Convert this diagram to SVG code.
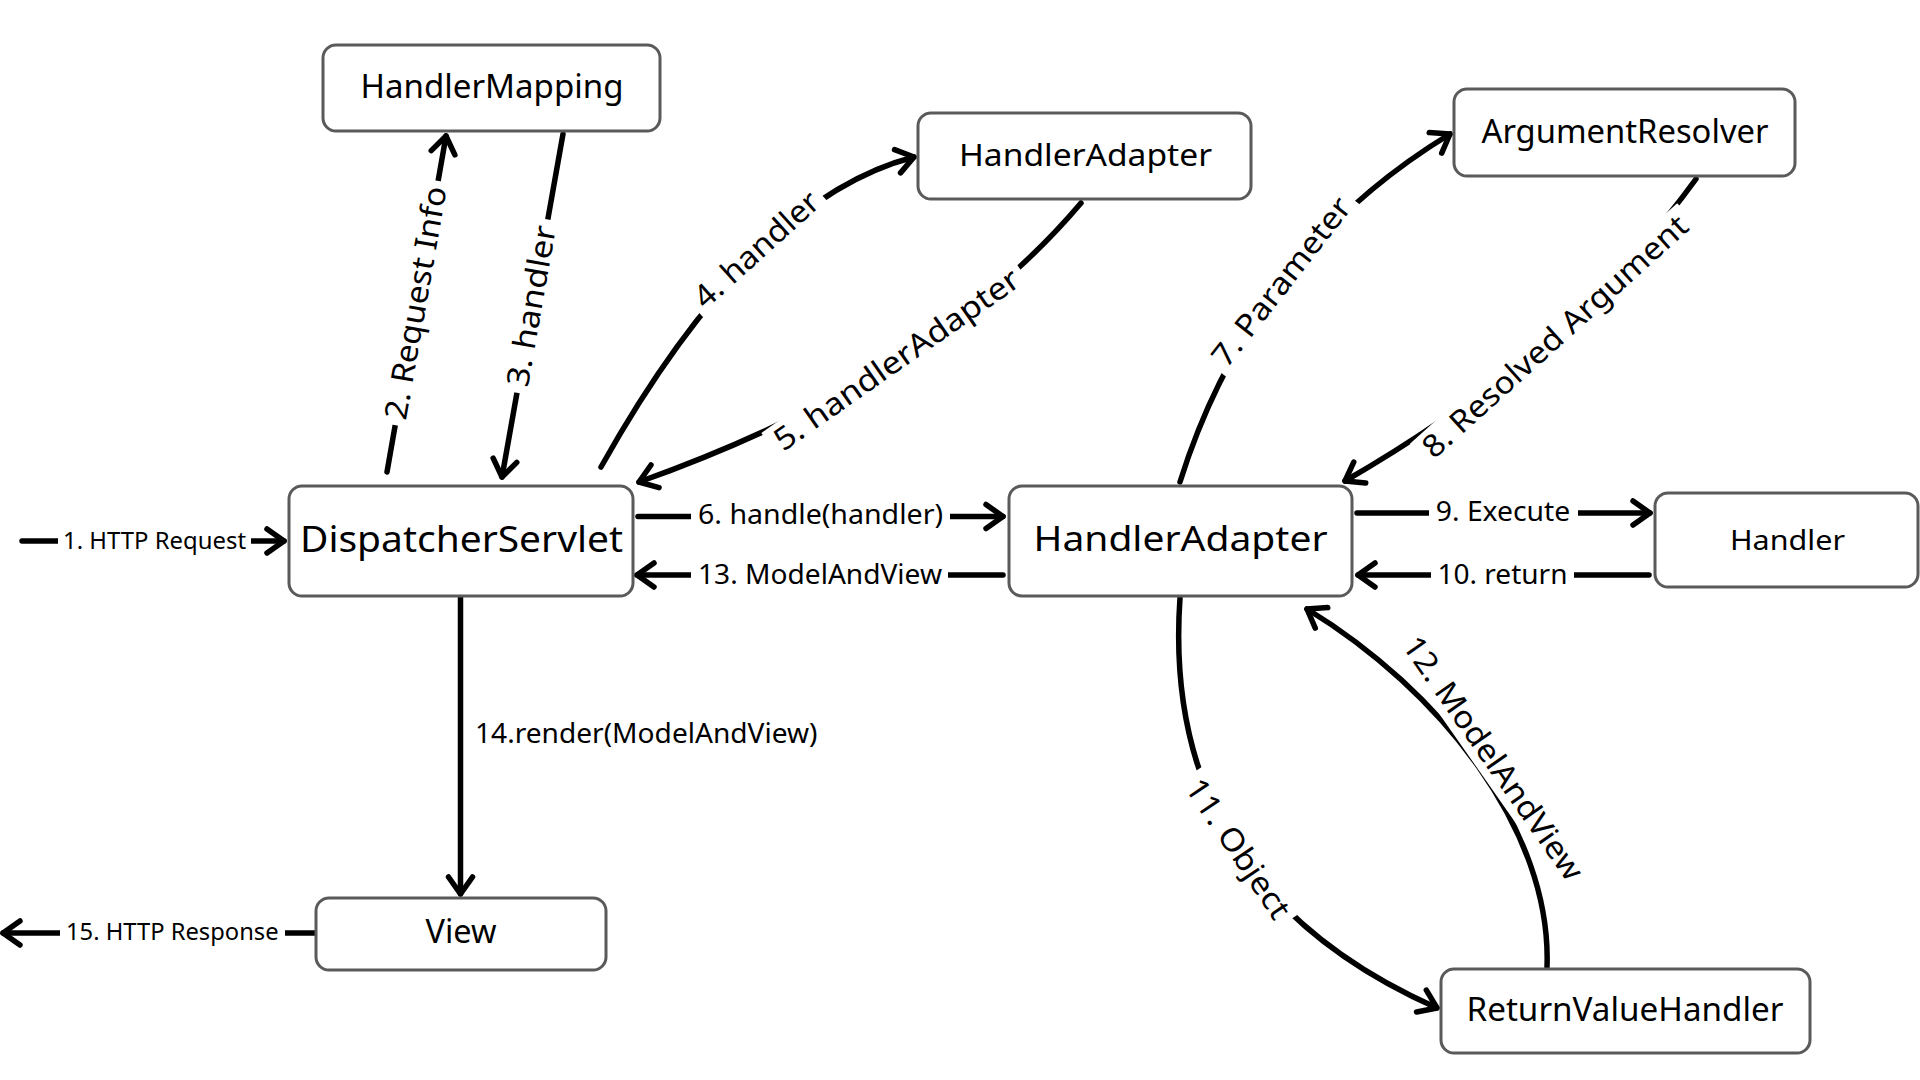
<svg xmlns="http://www.w3.org/2000/svg" width="1920" height="1080" viewBox="0 0 1920 1080">
<defs>
<style>
.node rect{fill:#fff;stroke:#5a5a5a;stroke-width:3}
.node text{font-family:"Noto Sans","Open Sans","Liberation Sans",sans-serif;fill:#000;text-anchor:middle}
.edge{fill:none;stroke:#000;stroke-width:5.5;stroke-linecap:round;marker-end:url(#arrow)}
.lbg{fill:#fff}
.lbl{font-family:"Noto Sans","Open Sans","Liberation Sans",sans-serif;fill:#000;text-anchor:middle;font-size:27px}
.rl{font-size:31px}
.sm{font-size:23px}
</style>
<marker id="arrow" markerUnits="userSpaceOnUse" orient="auto" viewBox="-25 -25 50 50" markerWidth="50" markerHeight="50" refX="0" refY="0">
<path d="M-17,-12 L0,0 L-17,12" fill="none" stroke="#000" stroke-width="5.5" stroke-linecap="round" stroke-linejoin="round"/>
</marker>
</defs>
<rect width="1920" height="1080" fill="#fff"/>
<g id="connectors">
<path class="edge" d="M22,541 H284"/>
<path class="edge" d="M387,472 L446,136"/>
<path class="edge" d="M563,134 L502,477"/>
<path class="edge" d="M601,467 Q751,199 914,157"/>
<path class="edge" d="M1081,203 Q934,377 639,482"/>
<path class="edge" d="M638,516.5 H1003"/>
<path class="edge" d="M1003,575 H637"/>
<path class="edge" d="M1180,482 Q1251,255 1450,134"/>
<path class="edge" d="M1696,179 Q1572,350 1345,481"/>
<path class="edge" d="M1357,513 H1650"/>
<path class="edge" d="M1649,575 H1358"/>
<path class="edge" d="M1180,598 Q1160,885 1437,1008"/>
<path class="edge" d="M1547,967 C1552,830 1440,690 1307,609"/>
<path class="edge" d="M460.5,598 V894"/>
<path class="edge" d="M315,933 H3"/>
<g id="labels">
<rect class="lbg" x="58" y="526" width="193" height="30"/>
<text class="lbl sm" x="154.5" y="549" textLength="183" lengthAdjust="spacingAndGlyphs">1. HTTP Request</text>
<g transform="translate(416.5,303) rotate(-80)"><rect class="lbg" x="-124" y="-18" width="248" height="36"/><text class="lbl rl" x="0" y="10" textLength="236" lengthAdjust="spacingAndGlyphs">2. Request Info</text></g>
<g transform="translate(532,306) rotate(-80)"><rect class="lbg" x="-88" y="-18" width="176" height="36"/><text class="lbl rl" x="0" y="10" textLength="163" lengthAdjust="spacingAndGlyphs">3. handler</text></g>
<g transform="translate(757,250) rotate(-42)"><rect class="lbg" x="-85" y="-18" width="170" height="36"/><text class="lbl rl" x="0" y="10" textLength="157" lengthAdjust="spacingAndGlyphs">4. handler</text></g>
<g transform="translate(897,360) rotate(-35)"><rect class="lbg" x="-153" y="-18" width="306" height="36"/><text class="lbl rl" x="0" y="10" textLength="292" lengthAdjust="spacingAndGlyphs">5. handlerAdapter</text></g>
<rect class="lbg" x="691" y="500" width="259" height="34"/>
<text class="lbl" x="820.5" y="524" textLength="245" lengthAdjust="spacingAndGlyphs">6. handle(handler)</text>
<g transform="translate(1282,282) rotate(-52)"><rect class="lbg" x="-109" y="-18" width="218" height="36"/><text class="lbl rl" x="0" y="10" textLength="205" lengthAdjust="spacingAndGlyphs">7. Parameter</text></g>
<g transform="translate(1555.5,337) rotate(-42)"><rect class="lbg" x="-180" y="-18" width="360" height="36"/><text class="lbl rl" x="0" y="10" textLength="345" lengthAdjust="spacingAndGlyphs">8. Resolved Argument</text></g>
<rect class="lbg" x="1429" y="497" width="149" height="32"/>
<text class="lbl" x="1503" y="521" textLength="134.5" lengthAdjust="spacingAndGlyphs">9. Execute</text>
<rect class="lbg" x="1431" y="559" width="143" height="32"/>
<text class="lbl" x="1502.5" y="583.5" textLength="130" lengthAdjust="spacingAndGlyphs">10. return</text>
<g transform="translate(1237.5,849) rotate(56)"><rect class="lbg" x="-88" y="-18" width="176" height="36"/><text class="lbl rl" x="0" y="10" textLength="162" lengthAdjust="spacingAndGlyphs">11. Object</text></g>
<g transform="translate(1492.5,758.5) rotate(55)"><rect class="lbg" x="-152" y="-18" width="304" height="36"/><text class="lbl rl" x="0" y="10" textLength="290" lengthAdjust="spacingAndGlyphs">12. ModelAndView</text></g>
<rect class="lbg" x="691" y="559" width="257" height="34"/>
<text class="lbl" x="820" y="583.5" textLength="244" lengthAdjust="spacingAndGlyphs">13. ModelAndView</text>
<text class="lbl" x="475" y="743" text-anchor="start" style="text-anchor:start" textLength="342.5" lengthAdjust="spacingAndGlyphs">14.render(ModelAndView)</text>
<rect class="lbg" x="60" y="918" width="225" height="30"/>
<text class="lbl sm" x="172.3" y="940" textLength="212.6" lengthAdjust="spacingAndGlyphs">15. HTTP Response</text>
</g>
</g>
<g id="node-handlermapping" class="node"><rect x="323" y="45" width="337" height="86" rx="13"/><text x="492" y="98" font-size="32" textLength="263" lengthAdjust="spacingAndGlyphs">HandlerMapping</text></g>
<g id="node-handleradapter-top" class="node"><rect x="918" y="113" width="333" height="86" rx="13"/><text x="1085.5" y="166" font-size="30" textLength="253" lengthAdjust="spacingAndGlyphs">HandlerAdapter</text></g>
<g id="node-argumentresolver" class="node"><rect x="1454" y="89" width="341" height="87" rx="13"/><text x="1625" y="143" font-size="32" textLength="287" lengthAdjust="spacingAndGlyphs">ArgumentResolver</text></g>
<g id="node-dispatcherservlet" class="node"><rect x="289" y="486" width="344" height="110" rx="13"/><text x="461.5" y="552" font-size="36" textLength="323" lengthAdjust="spacingAndGlyphs">DispatcherServlet</text></g>
<g id="node-handleradapter" class="node"><rect x="1009" y="486" width="343" height="110" rx="13"/><text x="1180.5" y="551" font-size="35" textLength="294" lengthAdjust="spacingAndGlyphs">HandlerAdapter</text></g>
<g id="node-handler" class="node"><rect x="1655" y="493" width="263" height="94" rx="13"/><text x="1787.5" y="550" font-size="28" textLength="115" lengthAdjust="spacingAndGlyphs">Handler</text></g>
<g id="node-view" class="node"><rect x="316" y="898" width="290" height="72" rx="13"/><text x="461" y="943" font-size="32" textLength="71" lengthAdjust="spacingAndGlyphs">View</text></g>
<g id="node-returnvaluehandler" class="node"><rect x="1441" y="969" width="369" height="84" rx="13"/><text x="1625" y="1021" font-size="32" textLength="317" lengthAdjust="spacingAndGlyphs">ReturnValueHandler</text></g>
</svg>
